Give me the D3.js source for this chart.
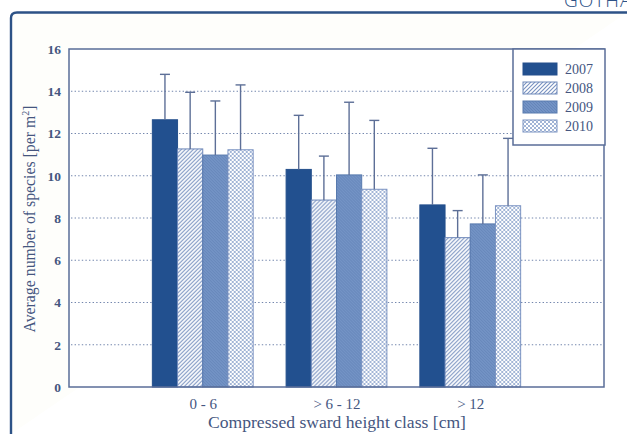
<!DOCTYPE html>
<html>
<head>
<meta charset="utf-8">
<script src="https://cdn.jsdelivr.net/npm/d3@7"></script>
<style>
  html, body { margin: 0; padding: 0; background: #ffffff; }
  svg { display: block; }
</style>
</head>
<body>
<svg id="chart" width="627" height="434"></svg>
<script>
// Sward height classes and survey years
const categories = ["0 - 6", "> 6 - 12", "> 12"];
const years = ["2007", "2008", "2009", "2010"];

// Mean number of species per m² for each class, by year
const mean2007 = [12.65, 10.30, 8.62];
const mean2008 = [11.27, 8.85, 7.07];
const mean2009 = [10.98, 10.04, 7.72];
const mean2010 = [11.23, 9.36, 8.58];

// Upper end of the error bars (mean + SD)
const upper2007 = [14.80, 12.86, 11.30];
const upper2008 = [13.95, 10.93, 8.35];
const upper2009 = [13.54, 13.48, 10.04];
const upper2010 = [14.30, 12.62, 11.77];

const yTicks = [0, 2, 4, 6, 8, 10, 12, 14, 16];

const means = [mean2007, mean2008, mean2009, mean2010];
const uppers = [upper2007, upper2008, upper2009, upper2010];

const svg = d3.select("#chart");
const W = 627, H = 434;
const plot = { left: 69, right: 604, top: 49, bottom: 387 };

const ink = "#45567f";
const serif = "'Liberation Serif', 'Times New Roman', serif";

// page background and outer frame
svg.append("rect").attr("width", W).attr("height", H).attr("fill", "#ffffff");
svg.append("path")
  .attr("d", `M11,${H} L11,18 Q11,12.5 17,12.5 L${W},12.5`)
  .attr("fill", "#fefefb")
  .attr("stroke", "#2d5286")
  .attr("stroke-width", 2.4);
svg.append("text")
  .attr("x", 564).attr("y", 7)
  .attr("font-family", "'Open Sans', 'DejaVu Sans', sans-serif")
  .attr("font-size", 19).attr("font-weight", 300)
  .attr("fill", "#2d5286")
  .attr("letter-spacing", 1)
  .text("GOTHA");

// fill patterns for the four years
const defs = svg.append("defs");

const p08 = defs.append("pattern").attr("id", "pat2008")
  .attr("patternUnits", "userSpaceOnUse").attr("width", 4).attr("height", 4);
p08.append("rect").attr("width", 4).attr("height", 4).attr("fill", "#ffffff");
p08.append("path").attr("d", "M-1,1 L1,-1 M0,4 L4,0 M3,5 L5,3")
  .attr("stroke", "#7891c0").attr("stroke-width", 1.1);

const p09 = defs.append("pattern").attr("id", "pat2009")
  .attr("patternUnits", "userSpaceOnUse").attr("width", 3).attr("height", 3);
p09.append("rect").attr("width", 3).attr("height", 3).attr("fill", "#7393c5");
p09.append("path").attr("d", "M-1,-1 L4,4 M-1,2 L1,4 M2,-1 L4,1")
  .attr("stroke", "#5f7fb4").attr("stroke-width", 0.7);

const p10 = defs.append("pattern").attr("id", "pat2010")
  .attr("patternUnits", "userSpaceOnUse").attr("width", 4).attr("height", 4);
p10.append("rect").attr("width", 4).attr("height", 4).attr("fill", "#ffffff");
p10.append("path").attr("d", "M0,0 L4,4 M4,0 L0,4")
  .attr("stroke", "#8aa2cc").attr("stroke-width", 0.8);

const fills = ["#22508f", "url(#pat2008)", "url(#pat2009)", "url(#pat2010)"];
const strokes = ["#244f8c", "#6f89ba", "#587aae", "#7b93c2"];

// scales
const y = d3.scaleLinear().domain([0, 16]).range([plot.bottom, plot.top]);
const x = d3.scalePoint().domain(categories).range([plot.left, plot.right]).padding(1);
const barW = 25.2;
const xYear = d3.scaleBand().domain(years).range([-2 * barW, 2 * barW]).padding(0);

// plot background
svg.append("rect")
  .attr("x", plot.left).attr("y", plot.top)
  .attr("width", plot.right - plot.left).attr("height", plot.bottom - plot.top)
  .attr("fill", "#ffffff");

// dotted gridlines
svg.append("g").selectAll("line")
  .data(yTicks.filter(d => d > 0 && d < 16))
  .join("line")
  .attr("x1", plot.left + 2).attr("x2", plot.right - 1)
  .attr("y1", d => y(d)).attr("y2", d => y(d))
  .attr("stroke", "#7386ad").attr("stroke-width", 1)
  .attr("stroke-dasharray", "1.4,2.2");

// bars
const groups = svg.append("g").selectAll("g")
  .data(categories)
  .join("g")
  .attr("transform", d => `translate(${x(d)},0)`);

years.forEach((yr, i) => {
  groups.append("rect")
    .attr("x", xYear(yr))
    .attr("y", (d, j) => y(means[i][j]))
    .attr("width", xYear.bandwidth())
    .attr("height", (d, j) => y(0) - y(means[i][j]))
    .attr("fill", fills[i])
    .attr("stroke", strokes[i])
    .attr("stroke-width", 1);
});

// error bars
years.forEach((yr, i) => {
  const cx = xYear(yr) + xYear.bandwidth() / 2;
  groups.append("line")
    .attr("x1", cx).attr("x2", cx)
    .attr("y1", (d, j) => y(means[i][j]))
    .attr("y2", (d, j) => y(uppers[i][j]))
    .attr("stroke", "#5d6f97").attr("stroke-width", 1.4);
  groups.append("line")
    .attr("x1", cx - 5).attr("x2", cx + 5)
    .attr("y1", (d, j) => y(uppers[i][j]))
    .attr("y2", (d, j) => y(uppers[i][j]))
    .attr("stroke", "#5d6f97").attr("stroke-width", 1.4);
});

// plot frame
svg.append("rect")
  .attr("x", plot.left).attr("y", plot.top)
  .attr("width", plot.right - plot.left).attr("height", plot.bottom - plot.top)
  .attr("fill", "none")
  .attr("stroke", "#5a6d98").attr("stroke-width", 1.5);

// y axis labels
const yAxis = d3.axisLeft(y).tickValues(yTicks).tickSize(0).tickPadding(8);
const gy = svg.append("g").attr("transform", `translate(${plot.left},0)`).call(yAxis);
gy.select(".domain").remove();
gy.selectAll("text")
  .attr("font-family", serif).attr("font-size", 13.5).attr("font-weight", "bold")
  .attr("fill", ink);

// x axis labels
const xAxis = d3.axisBottom(x).tickSize(0).tickPadding(11);
const gx = svg.append("g").attr("transform", `translate(0,${plot.bottom})`).call(xAxis);
gx.select(".domain").remove();
gx.selectAll("text")
  .attr("font-family", serif).attr("font-size", 15)
  .attr("fill", ink);

// axis titles
svg.append("text")
  .attr("x", 337).attr("y", 428)
  .attr("text-anchor", "middle")
  .attr("font-family", serif).attr("font-size", 17.6)
  .attr("fill", ink)
  .text("Compressed sward height class [cm]");

const yt = svg.append("text")
  .attr("transform", "translate(35,219) rotate(-90)")
  .attr("text-anchor", "middle")
  .attr("font-family", serif).attr("font-size", 15.8)
  .attr("fill", ink);
yt.append("tspan").text("Average number of species [per m");
yt.append("tspan").attr("font-size", 10).attr("dy", -6).text("2");
yt.append("tspan").attr("dy", 6).text("]");

// legend
const lg = { x: 513, y: plot.top, w: plot.right - 513 + 1, h: 96 };
svg.append("rect")
  .attr("x", lg.x).attr("y", lg.y).attr("width", lg.w).attr("height", lg.h)
  .attr("fill", "#ffffff").attr("stroke", "#5a6d98").attr("stroke-width", 1.5);

const items = svg.append("g").selectAll("g")
  .data(years)
  .join("g")
  .attr("transform", (d, i) => `translate(523,${63 + i * 19})`);
items.append("rect")
  .attr("width", 34).attr("height", 12)
  .attr("fill", (d, i) => fills[i])
  .attr("stroke", (d, i) => strokes[i]).attr("stroke-width", 1);
items.append("text")
  .attr("x", 42).attr("y", 11)
  .attr("font-family", serif).attr("font-size", 14)
  .attr("fill", ink)
  .text(d => d);
</script>
</body>
</html>
